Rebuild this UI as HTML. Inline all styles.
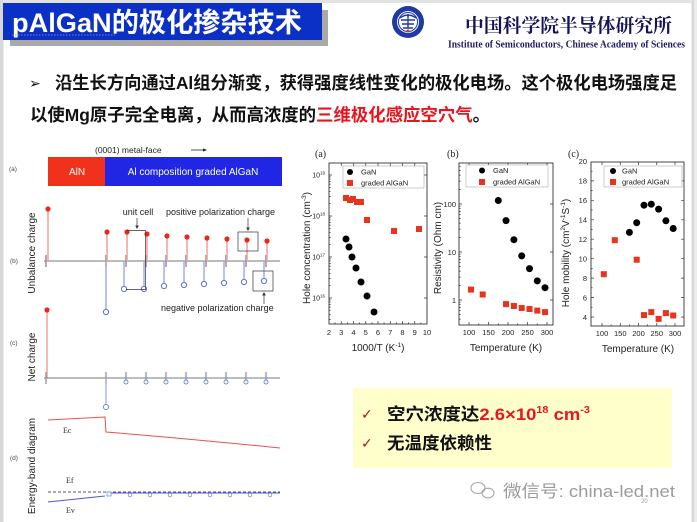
<!DOCTYPE html>
<html><head><meta charset="utf-8"><style>
html,body{margin:0;padding:0;background:#fff;}
svg{display:block;}
text{font-family:"Liberation Sans","Noto Sans CJK SC",sans-serif;}
.s{font-family:"Liberation Serif","Noto Serif CJK SC",serif;}
</style></head><body>
<svg width="697" height="522" viewBox="0 0 697 522" xmlns="http://www.w3.org/2000/svg">
<rect x="0" y="0" width="697" height="522" fill="#fff"/>
<!-- frame -->
<rect x="0" y="0" width="697" height="3" fill="#e2e2e2"/>
<rect x="0" y="0" width="3.5" height="522" fill="#d8d8d8"/>
<rect x="691" y="0" width="6" height="522" fill="#ececec"/>
<line x1="693" y1="0" x2="693" y2="522" stroke="#c4c4c4" stroke-width="1"/>

<!-- title -->
<rect x="10" y="10" width="318" height="36" fill="#a9a9a9"/>
<rect x="3" y="3" width="319" height="37" fill="#0b30c6"/>
<text x="12" y="32" font-size="27" font-weight="bold" fill="#fff" textLength="290" lengthAdjust="spacingAndGlyphs">pAlGaN的极化掺杂技术</text>
<line x1="12" y1="35" x2="115" y2="35" stroke="#e07a9a" stroke-width="0.8" stroke-dasharray="1.5,1.5"/>

<!-- logo -->
<circle cx="408" cy="22" r="16" fill="#1f3aa5"/>
<circle cx="408" cy="22" r="11" fill="#fff"/>
<circle cx="408" cy="22" r="9.5" fill="none" stroke="#1f3aa5" stroke-width="1"/>
<path d="M400,18 Q408,12 416,18 M401,20 h14 M402,24 h12 M408,14 v14 M403,28 h10" stroke="#1f3aa5" stroke-width="1.4" fill="none"/>
<circle cx="408" cy="31" r="1.5" fill="#d33"/>
<text x="465" y="32" font-size="19" font-weight="bold" fill="#14145a" textLength="207" lengthAdjust="spacingAndGlyphs" style="font-family:'Noto Serif CJK SC',serif">中国科学院半导体研究所</text>
<text x="448" y="47.5" class="s" font-size="10.5" font-weight="bold" fill="#1c1c60" textLength="237" lengthAdjust="spacingAndGlyphs">Institute of Semiconductors, Chinese Academy of Sciences</text>

<!-- bullet text -->
<text x="29" y="88" font-size="14" fill="#111" style="font-family:'DejaVu Sans',sans-serif">➢</text>
<text x="55" y="89" font-size="17.5" font-weight="bold" fill="#111" textLength="622" lengthAdjust="spacingAndGlyphs">沿生长方向通过Al组分渐变，获得强度线性变化的极化电场。这个极化电场强度足</text>
<text x="30" y="121" font-size="17.5" font-weight="bold" fill="#111" textLength="460" lengthAdjust="spacingAndGlyphs">以使Mg原子完全电离，从而高浓度的<tspan fill="#e8141e">三维极化感应空穴气</tspan>。</text>

<!-- LEFT FIGURE -->
<g font-size="6.5" fill="#444">
<text x="9" y="171">(a)</text>
<text x="10" y="263">(b)</text>
<text x="10" y="345">(c)</text>
<text x="10" y="460">(d)</text>
</g>
<text x="95" y="153" font-size="8.5" fill="#222">(0001)  metal-face</text>
<line x1="191" y1="150" x2="205" y2="150" stroke="#222" stroke-width="0.8"/>
<path d="M207,150 l-4,-1.6 v3.2z" fill="#222"/>
<rect x="48" y="157" width="57" height="29" fill="#f0321c"/>
<rect x="105" y="157" width="177" height="29" fill="#2026e4"/>
<text x="77" y="175" font-size="10" fill="#fff" text-anchor="middle">AlN</text>
<text x="193" y="175" font-size="10" fill="#fff" text-anchor="middle">Al composition graded AlGaN</text>

<!-- (b) -->
<text transform="translate(35,253) rotate(-90)" font-size="10" fill="#222" text-anchor="middle">Unbalance charge</text>
<line x1="44" y1="261" x2="280" y2="261" stroke="#777" stroke-width="0.9"/>
<g stroke="#999" stroke-width="1.6">
<path d="M46,255v12M106,255v12M126,255v12M146,255v12M166,255v12M186,255v12M206,255v12M226,255v12M246,255v12M266,255v12"/>
</g>
<g stroke="#f2a4a0" stroke-width="1.6">
<path d="M48,209V261M107,232V261M127,232V261M147,234V261M167,236V261M187,237V261M207,238V261M227,239V261M247,240V261M267,241V261"/>
</g>
<g stroke="#a4aef0" stroke-width="1.5">
<path d="M106,261V309M124,261V286M144,261V286M164,261V283M184,261V282M204,261V281M224,261V280M244,261V279M264,261V278"/>
</g>
<g fill="#e8281e">
<circle cx="48" cy="209" r="2.6"/><circle cx="107" cy="232" r="2.6"/><circle cx="127" cy="232" r="2.6"/><circle cx="147" cy="234" r="2.6"/><circle cx="167" cy="236" r="2.6"/><circle cx="187" cy="237" r="2.6"/><circle cx="207" cy="238" r="2.6"/><circle cx="227" cy="239" r="2.6"/><circle cx="247" cy="240" r="2.6"/><circle cx="267" cy="241" r="2.6"/>
</g>
<g fill="#fff" stroke="#5a6ee0" stroke-width="1">
<circle cx="106" cy="312" r="2.6"/><circle cx="124" cy="289" r="2.6"/><circle cx="144" cy="289" r="2.6"/><circle cx="164" cy="286" r="2.6"/><circle cx="184" cy="285" r="2.6"/><circle cx="204" cy="284" r="2.6"/><circle cx="224" cy="283" r="2.6"/><circle cx="244" cy="282" r="2.6"/><circle cx="264" cy="281" r="2.6"/>
</g>
<g font-size="9" fill="#222">
<text x="138" y="215" text-anchor="middle">unit cell</text>
<text x="166" y="215">positive polarization charge</text>
<text x="161" y="311">negative polarization charge</text>
</g>
<g stroke="#333" stroke-width="0.7" fill="none">
<path d="M127,230.5H145.5V289.5H126"/>
<line x1="137" y1="218" x2="137" y2="226"/>
<rect x="238" y="232" width="20" height="19"/>
<line x1="248" y1="218" x2="248" y2="228"/>
<rect x="253" y="271" width="20" height="20"/>
<line x1="264" y1="304" x2="264" y2="295"/>
</g>
<path d="M137,229l-1.8,-3.5h3.6z M248,231l-1.8,-3.5h3.6z M264,292l-1.8,3.5h3.6z" fill="#333"/>

<!-- (c) -->
<text transform="translate(35,357) rotate(-90)" font-size="10" fill="#222" text-anchor="middle">Net charge</text>
<line x1="47" y1="310" x2="47" y2="378" stroke="#f08a84" stroke-width="1.2"/>
<circle cx="47" cy="310" r="2.6" fill="#e8281e"/>
<line x1="44" y1="378" x2="280" y2="378" stroke="#777" stroke-width="0.9"/>
<g stroke="#999" stroke-width="1.4">
<path d="M46,372v12M106,372v12M126,372v12M146,372v12M166,372v12M186,372v12M206,372v12M226,372v12M246,372v12M266,372v12"/>
</g>
<line x1="106" y1="378" x2="106" y2="404" stroke="#a4aef0" stroke-width="1.3"/>
<g fill="#fff" stroke="#6a7ee0" stroke-width="0.9">
<circle cx="106" cy="407" r="2.6"/>
<circle cx="126" cy="382" r="2"/><circle cx="146" cy="382" r="2"/><circle cx="166" cy="382" r="2"/><circle cx="186" cy="382" r="2"/><circle cx="206" cy="382" r="2"/><circle cx="226" cy="382" r="2"/><circle cx="246" cy="382" r="2"/><circle cx="266" cy="382" r="2"/>
</g>

<!-- (d) -->
<text transform="translate(35,466) rotate(-90)" font-size="10" fill="#222" text-anchor="middle">Energy-band diagram</text>
<path d="M48,420L105,417L106,432Q190,439 280,448" stroke="#e85050" stroke-width="1" fill="none"/>
<text x="63" y="433" class="s" font-size="8" fill="#333">Ec</text>
<text x="66" y="483" class="s" font-size="8" fill="#333">Ef</text>
<text x="66" y="513" class="s" font-size="8" fill="#333">Ev</text>
<line x1="48" y1="492" x2="280" y2="492" stroke="#222" stroke-width="0.8" stroke-dasharray="3,2"/>
<path d="M48,502L105,496 M108,493H280" stroke="#4a5ad0" stroke-width="1.1" fill="none"/>
<g fill="#fff" stroke="#7a8ae0" stroke-width="0.8">
<rect x="107" y="492" width="4" height="4"/>
<circle cx="130" cy="495" r="1.8"/><circle cx="150" cy="495" r="1.8"/><circle cx="170" cy="495" r="1.8"/><circle cx="190" cy="495" r="1.8"/><circle cx="210" cy="495" r="1.8"/><circle cx="230" cy="495" r="1.8"/><circle cx="250" cy="495" r="1.8"/><circle cx="270" cy="495" r="1.8"/>
</g>

<!-- CHART (a) -->
<text x="315" y="157" class="s" font-size="10" fill="#222">(a)</text>
<rect x="329" y="163" width="98" height="161" fill="none" stroke="#333" stroke-width="0.9"/>
<g stroke="#333" stroke-width="0.7">
<path d="M329,175h3M329,216h3M329,257h3M329,298h3M427,175h-3M427,216h-3M427,257h-3M427,298h-3"/>
<path d="M329,319.4h1.7M329,314.3h1.7M329,310.3h1.7M329,307.1h1.7M329,304.4h1.7M329,302h1.7M329,299.9h1.7M329,285.7h1.7M329,278.4h1.7M329,273.3h1.7M329,269.3h1.7M329,266.1h1.7M329,263.4h1.7M329,261h1.7M329,258.9h1.7M329,244.7h1.7M329,237.4h1.7M329,232.3h1.7M329,228.3h1.7M329,225.1h1.7M329,222.4h1.7M329,220h1.7M329,217.9h1.7M329,203.7h1.7M329,196.4h1.7M329,191.3h1.7M329,187.3h1.7M329,184.1h1.7M329,181.4h1.7M329,179h1.7M329,176.9h1.7"/>
<path d="M341.25,324v-3M353.5,324v-3M365.75,324v-3M378,324v-3M390.25,324v-3M402.5,324v-3M414.75,324v-3M341.25,163v3M353.5,163v3M365.75,163v3M378,163v3M390.25,163v3M402.5,163v3M414.75,163v3"/>
<path d="M335.1,324v-1.6M347.4,324v-1.6M359.6,324v-1.6M371.9,324v-1.6M384.1,324v-1.6M396.4,324v-1.6M408.6,324v-1.6M420.9,324v-1.6"/>
</g>
<g font-size="7" fill="#222" text-anchor="end">
<text x="325" y="177.5">10<tspan font-size="4.5" dy="-3">19</tspan></text>
<text x="325" y="218.5">10<tspan font-size="4.5" dy="-3">18</tspan></text>
<text x="325" y="259.5">10<tspan font-size="4.5" dy="-3">17</tspan></text>
<text x="325" y="300.5">10<tspan font-size="4.5" dy="-3">16</tspan></text>
</g>
<g font-size="7.5" fill="#222" text-anchor="middle">
<text x="329" y="335">2</text><text x="341.25" y="335">3</text><text x="353.5" y="335">4</text><text x="365.75" y="335">5</text><text x="378" y="335">6</text><text x="390.25" y="335">7</text><text x="402.5" y="335">8</text><text x="414.75" y="335">9</text><text x="427" y="335">10</text>
</g>
<text x="378" y="351" font-size="10" fill="#222" text-anchor="middle">1000/T (K<tspan font-size="6.5" dy="-4">-1</tspan><tspan dy="4">)</tspan></text>
<text transform="translate(310,248) rotate(-90)" font-size="10" fill="#222" text-anchor="middle">Hole concentration (cm<tspan font-size="6.5" dy="-4">-3</tspan><tspan dy="4">)</tspan></text>
<rect x="343" y="166" width="81" height="22" fill="#fff" stroke="#999" stroke-width="0.5"/>
<circle cx="350" cy="172" r="3" fill="#000"/>
<rect x="347" y="180" width="6" height="6" fill="#e8331e"/>
<g font-size="7.5" fill="#222"><text x="361" y="174.5">GaN</text><text x="361" y="185.5">graded AlGaN</text></g>
<g fill="#000">
<circle cx="346" cy="239" r="3.5"/><circle cx="349" cy="247" r="3.5"/><circle cx="352" cy="257" r="3.5"/><circle cx="356" cy="268" r="3.5"/><circle cx="361" cy="282" r="3.5"/><circle cx="367" cy="296" r="3.5"/><circle cx="374" cy="312" r="3.5"/>
</g>
<g fill="#e8331e">
<rect x="343" y="195" width="6" height="6"/><rect x="347" y="197" width="6" height="6"/><rect x="350" y="196" width="6" height="6"/><rect x="354" y="199" width="6" height="6"/><rect x="358" y="199" width="6" height="6"/><rect x="364" y="217" width="6" height="6"/><rect x="391" y="228" width="6" height="6"/><rect x="416" y="226" width="6" height="6"/>
</g>

<!-- CHART (b) -->
<text x="447" y="157" class="s" font-size="10" fill="#222">(b)</text>
<rect x="459" y="163" width="94" height="162" fill="none" stroke="#333" stroke-width="0.9"/>
<g stroke="#333" stroke-width="0.7">
<path d="M459,300h3M459,252h3M459,204h3M553,300h-3M553,252h-3M553,204h-3"/>
<path d="M459,319.1h1.7M459,314.4h1.7M459,310.7h1.7M459,307.4h1.7M459,304.7h1.7M459,302.2h1.7M459,285.6h1.7M459,277.1h1.7M459,271.1h1.7M459,266.4h1.7M459,262.7h1.7M459,259.4h1.7M459,256.7h1.7M459,254.2h1.7M459,237.6h1.7M459,229.1h1.7M459,223.1h1.7M459,218.4h1.7M459,214.7h1.7M459,211.4h1.7M459,208.7h1.7M459,206.2h1.7M459,189.6h1.7M459,181.1h1.7M459,175.1h1.7M459,170.4h1.7M459,166.7h1.7"/>
<path d="M469,325v-3M488.5,325v-3M508,325v-3M527.5,325v-3M547,325v-3M469,163v3M488.5,163v3M508,163v3M527.5,163v3M547,163v3"/>
<path d="M478.75,325v-1.6M498.25,325v-1.6M517.75,325v-1.6M537.25,325v-1.6"/>
</g>
<g font-size="7.5" fill="#222" text-anchor="end">
<text x="456" y="207">100</text><text x="456" y="255">10</text><text x="456" y="303">1</text>
</g>
<g font-size="7.5" fill="#222" text-anchor="middle">
<text x="469" y="335">100</text><text x="488.5" y="335">150</text><text x="508" y="335">200</text><text x="527.5" y="335">250</text><text x="547" y="335">300</text>
</g>
<text x="506" y="351" font-size="10" fill="#222" text-anchor="middle">Temperature (K)</text>
<text transform="translate(441,248) rotate(-90)" font-size="10" fill="#222" text-anchor="middle">Resistivity (Ohm cm)</text>
<rect x="466" y="165" width="82" height="22" fill="#fff" stroke="#999" stroke-width="0.5"/>
<circle cx="482" cy="170.5" r="3" fill="#000"/>
<rect x="479" y="179" width="6" height="6" fill="#e8331e"/>
<g font-size="7.5" fill="#222"><text x="493" y="173">GaN</text><text x="493" y="184.5">graded AlGaN</text></g>
<g fill="#000">
<circle cx="498.3" cy="200.5" r="3.5"/><circle cx="506" cy="220.6" r="3.5"/><circle cx="513.9" cy="239.7" r="3.5"/><circle cx="521.7" cy="255.9" r="3.5"/><circle cx="529.5" cy="268.6" r="3.5"/><circle cx="537.3" cy="280.9" r="3.5"/><circle cx="545" cy="287.7" r="3.5"/>
</g>
<g fill="#e8331e">
<rect x="468" y="286.6" width="6" height="6"/><rect x="479.7" y="291.5" width="6" height="6"/><rect x="503" y="301.1" width="6" height="6"/><rect x="510.9" y="303" width="6" height="6"/><rect x="518.7" y="305" width="6" height="6"/><rect x="526.5" y="306" width="6" height="6"/><rect x="534.3" y="307.6" width="6" height="6"/><rect x="542" y="309.1" width="6" height="6"/>
</g>

<!-- CHART (c) -->
<text x="568" y="157" class="s" font-size="10" fill="#222">(c)</text>
<rect x="591" y="162" width="93" height="164" fill="none" stroke="#333" stroke-width="0.9"/>
<g stroke="#333" stroke-width="0.7">
<path d="M591,317h3M591,297.6h3M591,278.1h3M591,258.7h3M591,239.2h3M591,219.8h3M591,200.3h3M591,180.9h3M684,317h-3M684,297.6h-3M684,278.1h-3M684,258.7h-3M684,239.2h-3M684,219.8h-3M684,200.3h-3M684,180.9h-3"/>
<path d="M591,307.3h1.6M591,287.8h1.6M591,268.4h1.6M591,248.9h1.6M591,229.5h1.6M591,210h1.6M591,190.6h1.6M591,171.2h1.6"/>
<path d="M602,326v-3M620.25,326v-3M638.5,326v-3M656.75,326v-3M675,326v-3M602,162v3M620.25,162v3M638.5,162v3M656.75,162v3M675,162v3"/>
<path d="M611.1,326v-1.6M629.4,326v-1.6M647.6,326v-1.6M665.9,326v-1.6"/>
</g>
<g font-size="7.5" fill="#222" text-anchor="end">
<text x="587" y="164">20</text><text x="587" y="183.5">18</text><text x="587" y="203">16</text><text x="587" y="222.5">14</text><text x="587" y="242">12</text><text x="587" y="261.5">10</text><text x="587" y="281">8</text><text x="587" y="300.5">6</text><text x="587" y="320">4</text>
</g>
<g font-size="7.5" fill="#222" text-anchor="middle">
<text x="602" y="336">100</text><text x="620.25" y="336">150</text><text x="638.5" y="336">200</text><text x="656.75" y="336">250</text><text x="675" y="336">300</text>
</g>
<text x="638" y="352" font-size="10" fill="#222" text-anchor="middle">Temperature (K)</text>
<text transform="translate(569,253) rotate(-90)" font-size="10" fill="#222" text-anchor="middle">Hole mobility (cm<tspan font-size="6.5" dy="-4">2</tspan><tspan dy="4">V</tspan><tspan font-size="6.5" dy="-4">-1</tspan><tspan dy="4">S</tspan><tspan font-size="6.5" dy="-4">-1</tspan><tspan dy="4">)</tspan></text>
<rect x="604" y="166" width="78" height="21" fill="#fff" stroke="#999" stroke-width="0.5"/>
<circle cx="613" cy="171" r="3" fill="#000"/>
<rect x="610" y="179" width="6" height="6" fill="#e8331e"/>
<g font-size="7.5" fill="#222"><text x="622" y="173.5">GaN</text><text x="622" y="184.5">graded AlGaN</text></g>
<g fill="#000">
<circle cx="629.4" cy="232.4" r="3.5"/><circle cx="636.7" cy="222.7" r="3.5"/><circle cx="644" cy="205.2" r="3.5"/><circle cx="651.3" cy="204.2" r="3.5"/><circle cx="658.6" cy="209.1" r="3.5"/><circle cx="665.9" cy="220.8" r="3.5"/><circle cx="673.2" cy="228.5" r="3.5"/>
</g>
<g fill="#e8331e">
<rect x="600.8" y="271.2" width="6" height="6"/><rect x="611.8" y="237.2" width="6" height="6"/><rect x="633.7" y="256.7" width="6" height="6"/><rect x="641" y="312.1" width="6" height="6"/><rect x="648.3" y="309.1" width="6" height="6"/><rect x="655.6" y="315.9" width="6" height="6"/><rect x="662.9" y="310.1" width="6" height="6"/><rect x="670.2" y="312.5" width="6" height="6"/>
</g>

<!-- yellow box -->
<rect x="353" y="388" width="319" height="80" fill="#ffffcc"/>
<text x="361" y="419" font-size="14" fill="#b01010" style="font-family:'DejaVu Sans',sans-serif">✓</text>
<text x="361" y="448" font-size="14" fill="#b01010" style="font-family:'DejaVu Sans',sans-serif">✓</text>
<text x="387" y="420" font-size="17" font-weight="bold" fill="#111" textLength="203" lengthAdjust="spacingAndGlyphs">空穴浓度达<tspan fill="#e8141e">2.6×10<tspan font-size="10" dy="-7">18</tspan><tspan dy="7"> cm</tspan><tspan font-size="10" dy="-7">-3</tspan></tspan></text>
<text x="387" y="449" font-size="17" font-weight="bold" fill="#111" textLength="105" lengthAdjust="spacingAndGlyphs">无温度依赖性</text>

<!-- watermark -->
<g stroke="#a8a8a8" stroke-width="1.1" fill="none">
<ellipse cx="478" cy="488" rx="7" ry="5.5"/>
<ellipse cx="488" cy="493" rx="6" ry="4.8"/>
</g>
<text x="503" y="497" font-size="17" fill="#9c9c9c" textLength="172" lengthAdjust="spacingAndGlyphs">微信号: china-led.net</text>
<text x="641" y="503" font-size="6" fill="#999">20</text>
</svg>
</body></html>
